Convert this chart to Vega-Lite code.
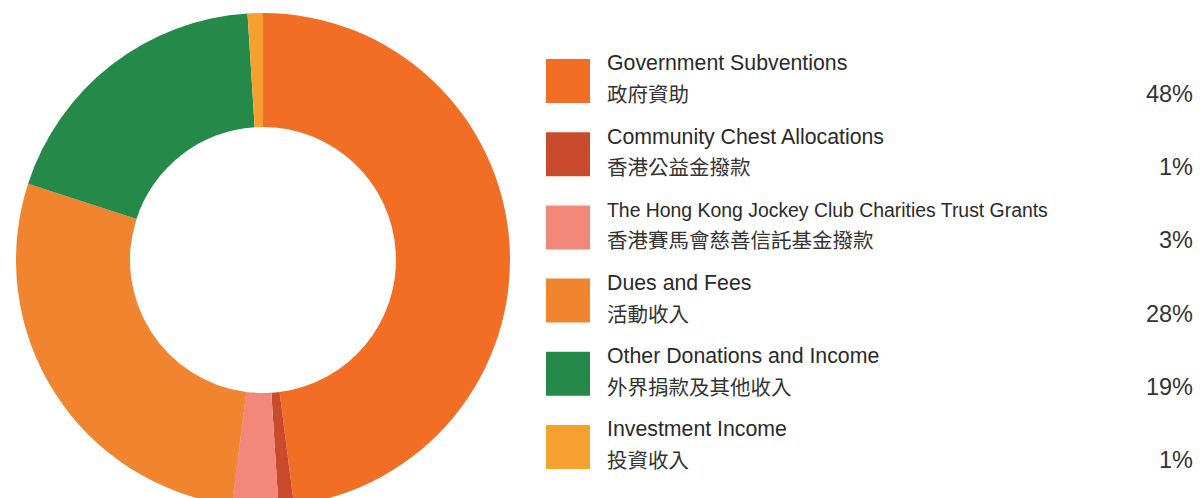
{
  "$schema": "https://vega.github.io/schema/vega-lite/v6.json",
  "padding": {"left": 16, "top": 13, "right": 5, "bottom": 0},
  "background": "white",
  "spacing": 36,
  "config": {"view": {"stroke": null}, "font": "Liberation Sans"},
  "data": {
    "values": [
      {"order": 0, "en": "Government Subventions", "zh": "政府資助", "pct": "48%", "value": 48},
      {"order": 1, "en": "Community Chest Allocations", "zh": "香港公益金撥款", "pct": "1%", "value": 1},
      {"order": 2, "en": "The Hong Kong Jockey Club Charities Trust Grants", "zh": "香港賽馬會慈善信託基金撥款", "pct": "3%", "value": 3},
      {"order": 3, "en": "Dues and Fees", "zh": "活動收入", "pct": "28%", "value": 28},
      {"order": 4, "en": "Other Donations and Income", "zh": "外界捐款及其他收入", "pct": "19%", "value": 19},
      {"order": 5, "en": "Investment Income", "zh": "投資收入", "pct": "1%", "value": 1}
    ]
  },
  "hconcat": [
    {
      "width": 494,
      "height": 494,
      "mark": {"type": "arc", "outerRadius": 247, "innerRadius": 133},
      "encoding": {
        "theta": {"field": "value", "type": "quantitative", "stack": true},
        "order": {"field": "order", "type": "quantitative"},
        "color": {
          "field": "en", "type": "nominal", "legend": null,
          "scale": {
            "domain": ["Government Subventions", "Community Chest Allocations", "The Hong Kong Jockey Club Charities Trust Grants", "Dues and Fees", "Other Donations and Income", "Investment Income"],
            "range": ["#F26E25", "#C94A2D", "#F3877A", "#F1842F", "#25894A", "#F7A030"]
          }
        }
      }
    },
    {
      "width": 649,
      "height": 494,
      "encoding": {
        "y": {"field": "order", "type": "quantitative", "axis": null,
              "scale": {"domain": [-0.929, 5.82], "reverse": true, "nice": false, "zero": false}}
      },
      "layer": [
        {
          "mark": {"type": "square", "size": 1936, "filled": true, "opacity": 1},
          "encoding": {
            "x": {"value": 22},
            "color": {
              "field": "en", "type": "nominal", "legend": null,
              "scale": {
                "domain": ["Government Subventions", "Community Chest Allocations", "The Hong Kong Jockey Club Charities Trust Grants", "Dues and Fees", "Other Donations and Income", "Investment Income"],
                "range": ["#F26522", "#C94B2D", "#F48E7B", "#F2843B", "#1B9548", "#F8A533"]
              }
            }
          }
        },
        {
          "mark": {"type": "text", "align": "left", "baseline": "alphabetic", "dy": -10.5, "color": "#2a2a2a", "font": "Liberation Sans"},
          "encoding": {
            "x": {"value": 61},
            "text": {"field": "en"},
            "size": {"condition": {"test": "datum.order == 2", "value": 19.4}, "value": 21.3}
          }
        },
        {
          "mark": {"type": "text", "align": "left", "baseline": "alphabetic", "dy": 21, "fontSize": 20.5, "color": "#333333", "font": "Noto Sans CJK TC"},
          "encoding": {
            "x": {"value": 61},
            "text": {"field": "zh"}
          }
        },
        {
          "mark": {"type": "text", "align": "right", "baseline": "alphabetic", "dy": 21, "fontSize": 23.5, "color": "#333333", "font": "Liberation Sans"},
          "encoding": {
            "x": {"value": 647},
            "text": {"field": "pct"}
          }
        }
      ]
    }
  ]
}
